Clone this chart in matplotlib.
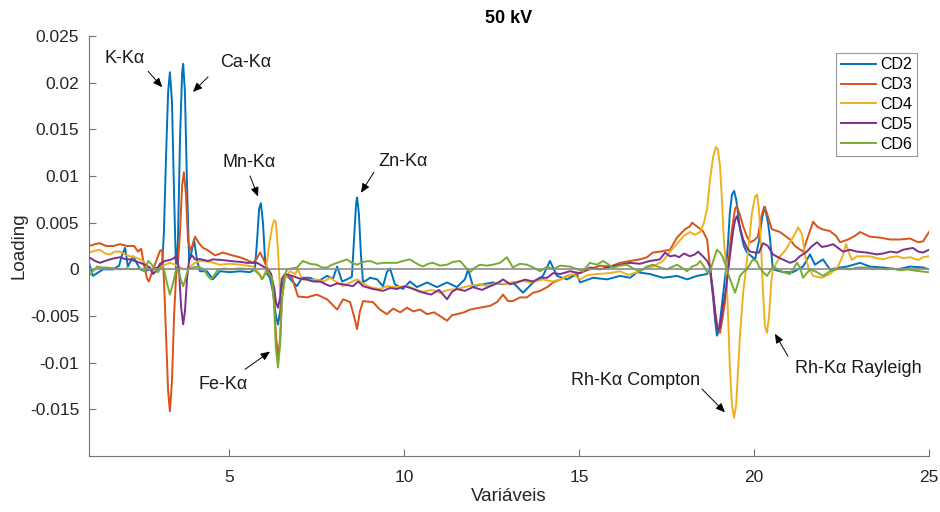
import numpy as np
import matplotlib
matplotlib.use("Agg")
import matplotlib.pyplot as plt

plt.rcParams['font.family'] = ['Liberation Sans', 'DejaVu Sans']

# Loadings (y em unidades de 1e-3)
cd2_x = [1.00, 1.11, 1.40, 1.69, 1.86, 1.94, 2.03, 2.11, 2.26, 2.46, 2.60, 2.74, 2.97, 3.09,
         3.14, 3.20, 3.26, 3.31, 3.37, 3.43, 3.49, 3.54, 3.60, 3.66, 3.69, 3.74, 3.80, 3.86,
         3.91, 4.00, 4.09, 4.17, 4.37, 4.54, 4.74, 5.03, 5.31, 5.60, 5.74, 5.80, 5.86, 5.91,
         5.97, 6.03, 6.09, 6.17, 6.26, 6.34, 6.40, 6.46, 6.54, 6.60, 6.74, 6.94, 7.09, 7.31,
         7.54, 7.80, 7.97, 8.09, 8.23, 8.37, 8.51, 8.57, 8.63, 8.66, 8.71, 8.77, 8.83, 9.03,
         9.23, 9.40, 9.51, 9.60, 9.74, 9.97, 10.17, 10.37, 10.66, 10.94, 11.23, 11.51, 11.74,
         11.83, 11.97, 12.26, 12.54, 12.83, 13.11, 13.40, 13.69, 13.97, 14.17, 14.37, 14.66,
         14.94, 15.03, 15.40, 15.80, 16.17, 16.46, 16.66, 17.03, 17.40, 17.80, 18.09, 18.37,
         18.66, 18.74, 18.83, 18.89, 18.94, 19.00, 19.06, 19.11, 19.20, 19.26, 19.31, 19.37,
         19.43, 19.49, 19.60, 19.71, 19.80, 20.03, 20.14, 20.23, 20.31, 20.40, 20.46, 20.54,
         20.83, 21.11, 21.40, 21.60, 21.74, 21.97, 22.17, 22.46, 22.66, 23.03, 23.31, 23.69,
         24.09, 24.46, 24.83, 25.00]
cd2_y = [0.7, -0.7, 0.0, 0.0, 0.4, 1.5, 2.3, 0.3, 1.4, 0.0, -0.2, 0.0, 0.2, 0.5,
         4.0, 12.0, 19.0, 21.1, 18.0, 8.0, -0.5, 3.0, 14.0, 21.0, 22.0, 19.0, 9.0, 1.0,
         1.5, 3.2, 0.9, -0.2, -0.2, -1.07, -0.2, -0.3, -0.2, -0.3, 0.0, 3.0, 6.5, 7.1,
         5.0, 1.0, -0.5, -0.9, -2.5, -5.0, -5.9, -4.5, -1.5, -0.5, -1.0, -1.8, -0.9, -0.9,
         -1.3, -0.7, -1.0, 0.3, -1.3, -1.07, -0.8, 3.0, 7.0, 7.7, 6.0, 1.5, -1.4, -0.9,
         -1.07, -1.8, -0.3, 0.1, -1.6, -2.1, -1.3, -1.9, -1.4, -1.9, -1.4, -1.9, -1.07,
         0.0, -1.8, -1.6, -1.4, -1.6, -1.4, -2.5, -1.4, -0.7, 0.9, -0.7, -1.07,
         -0.5, -1.4, -0.9, -1.07, -0.7, -0.9, -0.3, -0.5, -0.9, -0.7, -1.07, -0.7,
         -0.5, 0.0, -3.0, -5.5, -7.1, -6.5, -4.5, -2.9, 0.0, 3.0, 6.1, 8.0,
         8.4, 7.5, 4.3, 2.5, 1.8, 1.07, 3.0, 5.5, 6.7, 5.0, 3.2, 0.0,
         -0.3, -0.3, 0.3, 1.6, 0.5, 1.07, 0.0, 0.2, 0.3, 0.7, 0.3, 0.2,
         0.0, 0.3, 0.2, 0.0]

cd3_x = [1.00, 1.17, 1.31, 1.49, 1.69, 1.89, 2.09, 2.29, 2.40, 2.49, 2.57, 2.66, 2.71, 2.80,
         2.91, 3.03, 3.09, 3.14, 3.20, 3.26, 3.31, 3.37, 3.43, 3.49, 3.54, 3.60, 3.66, 3.71,
         3.77, 3.83, 3.91, 4.03, 4.14, 4.26, 4.37, 4.60, 4.83, 5.09, 5.31, 5.51, 5.69, 5.80,
         5.89, 5.97, 6.09, 6.20, 6.29, 6.34, 6.40, 6.46, 6.51, 6.60, 6.80, 6.97, 7.23, 7.51,
         7.80, 8.09, 8.26, 8.46, 8.57, 8.66, 8.74, 8.83, 9.11, 9.31, 9.51, 9.69, 9.89, 10.09,
         10.26, 10.46, 10.66, 10.86, 11.03, 11.23, 11.37, 11.51, 11.71, 11.89, 12.17, 12.46,
         12.66, 12.83, 12.97, 13.11, 13.31, 13.51, 13.69, 13.89, 14.09, 14.26, 14.46, 14.66,
         14.94, 15.31, 15.60, 15.89, 16.17, 16.46, 16.74, 16.94, 17.11, 17.31, 17.60, 17.80,
         18.03, 18.17, 18.23, 18.40, 18.54, 18.66, 18.74, 18.83, 18.91, 18.97, 19.03, 19.09,
         19.17, 19.26, 19.31, 19.37, 19.46, 19.51, 19.60, 19.69, 19.80, 19.89, 20.00, 20.11,
         20.20, 20.29, 20.37, 20.51, 20.74, 21.03, 21.17, 21.40, 21.54, 21.69, 21.80, 21.94,
         22.17, 22.34, 22.46, 22.69, 22.89, 23.03, 23.31, 23.60, 23.89, 24.17, 24.46, 24.69,
         24.83, 25.00]
cd3_y = [2.5, 2.7, 2.8, 2.5, 2.5, 2.7, 2.5, 2.5, 1.9, 2.2, 0.5, -1.0, -1.3, -0.3,
         0.8, 2.0, 2.1, -1.0, -7.0, -13.0, -15.2, -12.0, -5.0, -0.5, 0.5, 4.0, 9.0, 10.4,
         8.0, 3.0, 2.0, 3.5, 2.8, 2.3, 2.1, 1.5, 1.8, 1.5, 1.3, 1.0, 0.7, 1.2,
         1.8, 1.2, 0.2, -0.5, -3.0, -7.0, -9.3, -7.5, -3.0, -0.7, -0.9, -2.9, -3.0, -2.7,
         -3.2, -4.3, -3.2, -3.5, -5.0, -6.4, -4.5, -3.4, -3.5, -4.3, -4.8, -4.2, -4.6, -4.1,
         -4.5, -4.3, -4.8, -4.6, -5.0, -5.5, -4.9, -4.8, -4.6, -4.3, -4.1, -3.9,
         -3.5, -2.7, -3.4, -3.4, -3.0, -3.0, -2.5, -2.3, -1.9, -1.4, -1.1, -0.7,
         -0.5, 0.0, 0.4, 0.3, 0.7, 0.9, 1.07, 1.3, 1.8, 1.9, 2.1, 3.4,
         4.3, 4.6, 5.0, 4.5, 4.1, 3.2, 0.3, -2.5, -5.0, -6.3, -6.8, -5.5,
         -3.5, 0.0, 2.5, 4.3, 6.5, 6.8, 5.8, 4.6, 3.5, 2.9, 3.1, 3.5,
         5.5, 6.7, 6.0, 4.3, 4.0, 3.2, 2.5, 1.9, 3.5, 5.1, 4.6, 4.3,
         4.1, 3.6, 2.9, 3.2, 3.6, 4.0, 3.5, 3.4, 3.2, 3.2, 3.3, 2.9,
         3.0, 4.0]

cd4_x = [1.00, 1.17, 1.31, 1.46, 1.60, 1.74, 1.89, 2.03, 2.17, 2.31, 2.46, 2.57, 2.66, 2.77,
         2.89, 3.03, 3.17, 3.31, 3.46, 3.60, 3.74, 3.89, 4.03, 4.17, 4.46, 4.74, 5.03, 5.31,
         5.69, 5.83, 5.97, 6.06, 6.14, 6.23, 6.29, 6.34, 6.40, 6.46, 6.51, 6.60, 6.74, 6.89,
         6.97, 7.09, 7.31, 7.51, 7.71, 7.89, 8.09, 8.26, 8.46, 8.66, 8.83, 9.03, 9.31, 9.51,
         9.74, 10.09, 10.31, 10.54, 10.80, 11.03, 11.26, 11.51, 11.83, 12.17, 12.40, 12.66,
         12.89, 13.11, 13.37, 13.60, 13.97, 14.23, 14.46, 14.83, 15.03, 15.26, 15.51, 15.89,
         16.17, 16.40, 16.66, 16.89, 17.11, 17.40, 17.60, 17.74, 17.86, 18.00, 18.17, 18.31,
         18.46, 18.57, 18.66, 18.74, 18.83, 18.91, 18.97, 19.03, 19.09, 19.14, 19.20, 19.26,
         19.31, 19.37, 19.43, 19.49, 19.54, 19.60, 19.69, 19.77, 19.86, 19.94, 20.03, 20.09,
         20.14, 20.20, 20.26, 20.31, 20.37, 20.43, 20.49, 20.54, 20.66, 20.74, 20.89, 21.03,
         21.17, 21.26, 21.37, 21.46, 21.57, 21.69, 21.94, 22.17, 22.40, 22.54, 22.63, 22.71,
         22.80, 22.94, 23.11, 23.31, 23.51, 23.69, 23.89, 24.09, 24.26, 24.46, 24.69, 24.83,
         25.00]
cd4_y = [1.8, 2.0, 2.1, 1.7, 1.6, 1.9, 1.9, 1.6, 1.4, 1.3, 1.07, 0.8, 0.3, -0.2,
         -0.3, 0.2, 0.5, 0.7, 0.5, 0.2, 0.0, 0.3, 0.7, 0.9, 0.8, 0.5, 0.6, 0.5,
         0.3, -0.3, -1.0, 0.0, 2.5, 4.5, 5.3, 5.0, 2.0, -2.5, -2.9, -1.0, -0.2, -0.5,
         0.0, -1.07, -1.2, -1.07, -1.3, -0.9, -1.4, -1.8, -1.4, -1.07, -1.5, -1.9, -2.1, -1.8,
         -1.9, -1.8, -2.1, -2.4, -2.2, -2.5, -2.2, -2.1, -1.8, -1.6, -1.8, -1.4,
         -1.6, -1.4, -1.2, -1.4, -1.07, -1.3, -1.07, -0.5, -1.07, -0.6, -0.5, -0.4,
         -0.2, -0.6, -0.3, 0.1, 0.3, 0.9, 1.9, 2.5, 3.0, 3.6, 4.0, 3.7,
         4.0, 5.0, 6.5, 9.5, 12.0, 13.1, 12.8, 11.0, 7.0, 3.0, 0.5, -5.0,
         -10.5, -14.5, -15.9, -14.5, -11.0, -7.0, -2.5, 0.0, 3.0, 6.0, 7.8, 8.0,
         6.5, 2.5, -2.5, -6.0, -6.8, -5.0, -1.5, 0.0, 0.8, 1.4, 2.0, 2.9,
         3.8, 4.5, 3.8, 1.5, 0.0, -0.7, -0.9, -0.5, 0.3, 1.5, 2.7, 1.8,
         1.0, 1.4, 1.4, 1.4, 1.2, 1.07, 1.3, 1.4, 1.2, 1.3, 1.0, 1.3,
         1.4]

cd5_x = [1.00, 1.17, 1.31, 1.46, 1.60, 1.74, 1.89, 2.03, 2.17, 2.31, 2.46, 2.60, 2.74, 2.83,
         2.91, 3.03, 3.17, 3.31, 3.43, 3.51, 3.57, 3.63, 3.69, 3.74, 3.80, 3.86, 3.94, 4.03,
         4.17, 4.40, 4.54, 4.80, 5.03, 5.31, 5.51, 5.80, 5.94, 6.09, 6.20, 6.29, 6.34, 6.40,
         6.46, 6.51, 6.60, 6.80, 7.03, 7.23, 7.40, 7.60, 7.89, 8.09, 8.26, 8.54, 8.69, 8.83,
         9.11, 9.40, 9.60, 9.80, 10.03, 10.26, 10.46, 10.77, 11.00, 11.23, 11.37, 11.51, 11.74,
         11.97, 12.23, 12.46, 12.66, 12.83, 13.03, 13.23, 13.46, 13.69, 13.89, 14.09, 14.26,
         14.46, 14.74, 15.03, 15.31, 15.60, 15.89, 16.17, 16.46, 16.74, 17.03, 17.31, 17.46,
         17.60, 17.74, 17.86, 18.00, 18.17, 18.31, 18.40, 18.54, 18.66, 18.74, 18.83, 18.91,
         18.97, 19.03, 19.11, 19.20, 19.31, 19.40, 19.46, 19.51, 19.60, 19.69, 19.80, 19.89,
         20.03, 20.14, 20.26, 20.40, 20.54, 20.74, 21.03, 21.17, 21.31, 21.51, 21.66, 21.80,
         21.94, 22.09, 22.26, 22.40, 22.54, 22.74, 22.94, 23.23, 23.51, 23.69, 23.89, 24.09,
         24.26, 24.54, 24.69, 24.83, 25.00]
cd5_y = [1.3, 0.9, 0.7, 0.9, 1.07, 1.2, 1.3, 1.1, 1.07, 0.9, 0.7, 0.5, 0.2, -0.5,
         -0.2, 0.6, 0.9, 1.0, 1.2, 1.5, 0.0, -4.0, -5.9, -4.5, -1.0, 1.0, 1.5, 1.07,
         1.1, 0.9, 1.07, 1.0, 0.9, 0.8, 0.7, 0.7, 0.4, 0.0, -0.5, -2.0, -3.5, -4.1,
         -3.0, -1.0, -0.5, -0.7, -1.0, -1.07, -1.3, -1.3, -1.8, -1.5, -1.6, -1.8, -1.3, -1.8,
         -2.1, -2.3, -2.0, -2.1, -1.8, -2.1, -2.4, -2.7, -2.2, -3.2, -2.4, -2.1, -2.3,
         -1.9, -2.2, -1.8, -1.5, -1.07, -1.6, -1.4, -1.1, -1.3, -0.9, -0.9, -0.4,
         -0.5, -0.2, -0.4, 0.2, 0.0, 0.3, 0.5, 0.7, 0.6, 0.9, 1.07, 1.8,
         1.4, 1.5, 1.3, 1.7, 1.4, 1.6, 1.9, 1.4, 0.9, 0.3, -2.5, -5.5,
         -6.5, -6.2, -4.0, -2.1, 1.4, 4.0, 5.3, 5.7, 4.5, 3.2, 2.3, 1.9,
         1.8, 1.8, 2.8, 2.5, 1.6, 1.2, 0.7, 0.9, 1.4, 1.9, 2.5, 2.9,
         2.4, 2.5, 2.7, 2.3, 1.9, 2.1, 1.9, 1.8, 1.6, 1.7, 1.9, 1.8,
         2.1, 2.3, 1.9, 1.8, 2.1]

cd6_x = [1.00, 1.09, 1.23, 1.37, 1.51, 1.69, 1.89, 2.09, 2.26, 2.46, 2.60, 2.69, 2.77, 2.89,
         2.97, 3.06, 3.14, 3.23, 3.31, 3.40, 3.49, 3.57, 3.63, 3.69, 3.74, 3.83, 3.97, 4.11,
         4.29, 4.37, 4.49, 4.60, 4.69, 4.89, 5.03, 5.31, 5.69, 5.86, 5.94, 6.03, 6.11, 6.23,
         6.29, 6.34, 6.40, 6.46, 6.51, 6.60, 6.66, 6.80, 6.94, 7.11, 7.31, 7.51, 7.66, 7.80,
         7.94, 8.09, 8.37, 8.51, 8.66, 8.83, 9.03, 9.23, 9.40, 9.60, 9.80, 9.97, 10.17, 10.37,
         10.54, 10.69, 10.83, 11.03, 11.23, 11.40, 11.60, 11.74, 11.89, 12.03, 12.17, 12.37,
         12.54, 12.74, 12.94, 13.11, 13.31, 13.51, 13.69, 13.89, 14.09, 14.26, 14.46, 14.74,
         15.11, 15.31, 15.51, 15.69, 15.97, 16.17, 16.37, 16.54, 16.74, 16.94, 17.11, 17.31,
         17.51, 17.80, 18.09, 18.23, 18.37, 18.46, 18.57, 18.66, 18.74, 18.86, 18.94, 19.03,
         19.11, 19.20, 19.31, 19.46, 19.54, 19.60, 19.69, 19.80, 19.89, 19.97, 20.09, 20.14,
         20.26, 20.37, 20.54, 20.69, 20.83, 21.03, 21.23, 21.31, 21.40, 21.60, 21.80, 21.97,
         22.17, 22.37, 22.54, 22.74, 22.97, 23.23, 23.40, 23.60, 23.80, 23.97, 24.17, 24.37,
         24.54, 24.74, 24.97]
cd6_y = [-0.7, -0.3, 0.3, 0.2, 0.2, 0.1, 0.0, 0.1, 0.0, 0.1, -0.2, 0.9, 0.6, 0.0,
         -0.3, 0.2, 0.0, -1.5, -2.7, -1.5, 0.0, -0.3, -1.2, -1.8, -1.2, 0.0, 0.2, 0.3,
         0.0, -0.6, -1.07, -0.5, 0.0, 0.1, 0.0, 0.1, 0.0, -0.5, -1.07, -0.5, -0.2, -1.0,
         -4.0, -8.5, -10.5, -8.0, -3.5, -0.5, 0.0, 0.1, 0.2, 0.9, 0.6, 0.5, 0.2, 0.2,
         0.5, 0.7, 1.07, 0.7, 0.5, 0.8, 0.9, 0.6, 0.7, 0.7, 0.7, 0.9, 1.07, 0.6,
         0.3, 0.6, 0.7, 0.4, 0.5, 0.8, 0.9, 0.3, -0.3, 0.2, 0.5, 0.4,
         0.5, 0.7, 1.3, 0.2, 0.6, 0.5, 0.2, -0.2, 0.3, 0.0, 0.4, 0.3,
         -0.2, 0.7, 0.5, 0.9, 0.2, 0.4, 0.5, 0.1, -0.2, 0.3, 0.5, 0.2,
         0.0, 0.5, -0.2, 0.3, 0.5, 0.9, 0.3, -0.3, -0.3, 1.2, 2.1, 1.8,
         1.3, 0.3, -1.0, -2.5, -1.5, -0.7, -0.3, 0.0, 0.6, 1.07, 0.8, 0.3,
         -0.3, -0.7, 0.3, 0.0, -0.3, -0.5, 0.7, 0.2, -0.9, 0.0, -0.3, -0.7,
         -0.2, 0.0, 0.1, 0.0, 0.2, 0.2, 0.0, 0.1, 0.0, 0.1, -0.1, 0.0,
         -0.1, -0.2, -0.3]

series = [("CD2", cd2_x, cd2_y, "#0072BD"),
          ("CD3", cd3_x, cd3_y, "#D95319"),
          ("CD4", cd4_x, cd4_y, "#EDB120"),
          ("CD5", cd5_x, cd5_y, "#7E2F8E"),
          ("CD6", cd6_x, cd6_y, "#77AC30")]

# anotações: texto, posição do texto, cauda e ponta da seta (y em 1e-3)
rotulos = [("K-Kα", (2.03, 22.6), (2.69, 21.2), (3.09, 19.5)),
           ("Ca-Kα", (5.49, 22.1), (4.40, 20.6), (3.97, 19.0)),
           ("Mn-Kα", (5.57, 11.4), (5.60, 10.0), (5.83, 7.8)),
           ("Zn-Kα", (9.97, 11.5), (9.14, 10.4), (8.77, 8.2)),
           ("Fe-Kα", (4.83, -12.3), (5.46, -10.7), (6.17, -8.8)),
           ("Rh-Kα Compton", (16.63, -11.9), (18.51, -12.8), (19.17, -15.3)),
           ("Rh-Kα Rayleigh", (22.97, -10.6), (20.97, -9.3), (20.60, -6.9))]

fig = plt.figure(figsize=(9.4, 5.12), dpi=100)
ax = fig.add_axes([0.0947, 0.109, 0.8936, 0.821])

for nome, xs, ys, cor in series:
    ax.plot(xs, np.array(ys) * 1e-3, color=cor, lw=1.4, label=nome)

ax.axhline(0, color="0.55", lw=1.2, zorder=5)

for txt, pos, cauda, ponta in rotulos:
    ax.text(pos[0], pos[1] * 1e-3, txt, ha="center", va="center", fontsize=13, color="#1a1a1a")
    ax.annotate("", xy=(ponta[0], ponta[1] * 1e-3), xytext=(cauda[0], cauda[1] * 1e-3),
                arrowprops=dict(arrowstyle="-|>,head_length=0.55,head_width=0.24",
                                color="black", lw=0.7, shrinkA=0, shrinkB=0))

ax.set_xlim(1, 25)
ax.set_ylim(-0.02, 0.025)
ax.set_xticks([5, 10, 15, 20, 25])
ax.set_yticks([-0.015, -0.01, -0.005, 0, 0.005, 0.01, 0.015, 0.02, 0.025])
ax.set_yticklabels(["-0.015", "-0.01", "-0.005", "0", "0.005", "0.01", "0.015", "0.02", "0.025"])

for lado in ["top", "right"]:
    ax.spines[lado].set_visible(False)
for lado in ["left", "bottom"]:
    ax.spines[lado].set_color("0.45")
    ax.spines[lado].set_linewidth(0.8)
ax.tick_params(direction="in", length=5, width=0.8, color="0.45", labelcolor="#262626",
               labelsize=12.5)
ax.tick_params(axis="x", pad=10)
ax.tick_params(axis="y", pad=7)

ax.set_title("50 kV", fontsize=13, fontweight="bold", pad=9)
ax.set_xlabel("Variáveis", fontsize=13.5, color="#262626", labelpad=2)
ax.set_ylabel("Loading", fontsize=13.5, color="#262626", labelpad=2)

leg = ax.legend(loc="upper right", bbox_to_anchor=(0.986, 0.96), borderaxespad=0,
                fontsize=11.5, fancybox=False, framealpha=1, edgecolor="0.6",
                handlelength=2.2, handletextpad=0.3, labelspacing=0.3, borderpad=0.3)
leg.get_frame().set_linewidth(0.8)

fig.savefig("out.png", dpi=100)
